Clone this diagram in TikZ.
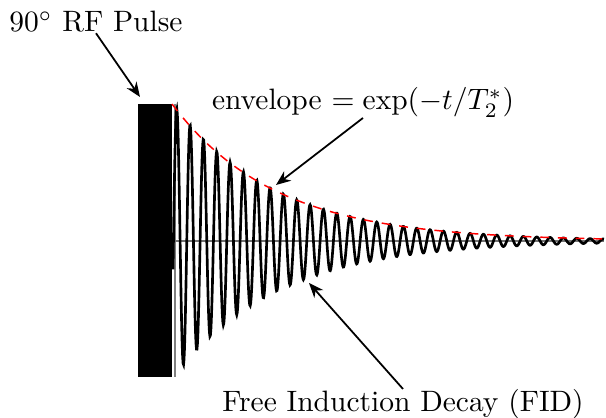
\documentclass[tikz,border=0pt]{standalone}
\usepackage{amsmath,amssymb}
\usepackage{tikz}
\usetikzlibrary{arrows.meta}

\begin{document}
\begin{tikzpicture}[x=0.339pt, y=-0.339pt, >={Stealth[length=5pt,width=4pt]},
  lbl/.style={inner sep=0pt, anchor=base},
  pointer/.style={->, semithick}]
  \useasboundingbox (0,0) rectangle (606,418);
  % RF pulse
  \fill (138,104) rectangle (172,377);
  \draw[gray, thin] (175,104) -- (175,377);
  % time axis
  \draw[black!55, line width=0.7pt] (172,241) -- (604,241);
  % FID signal
  \draw[line width=0.9pt, samples=900, domain=0:431]
    plot ({173+\x}, {241-137*exp(-\x/103)*sin(27*\x-12)});
  % envelope
  \draw[red, dashed, line width=0.5pt, samples=80, domain=0:432]
    plot ({172+\x}, {241-137*exp(-\x/103)});
  % labels
  \node[lbl] (rf) at (96,32) {$90^\circ$ RF Pulse};
  \node[lbl] (env) at (363,110) {envelope $= \exp(-t/T_2^*)$};
  \node[lbl] (fid) at (403,411.7) {Free Induction Decay (FID)};
  \coordinate (rftip) at (140,97);
  \coordinate (envtip) at (276,185);
  \coordinate (fidtip) at (309,283);
  % arrows
  \draw[pointer] (rf.south) -- (rftip);
  \draw[pointer] (env.south) -- (envtip);
  \draw[pointer] (fid.north) -- (fidtip);
\end{tikzpicture}
\end{document}
